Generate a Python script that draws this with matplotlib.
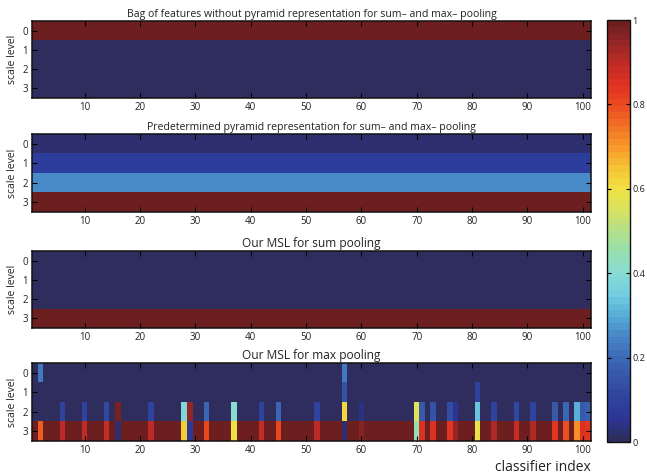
import numpy as np
import matplotlib
matplotlib.use("Agg")
import matplotlib.pyplot as plt
from matplotlib.colors import LinearSegmentedColormap

plt.rcParams['font.family'] = ['Open Sans', 'DejaVu Sans']

# ---------------- data ----------------
n_classifiers = 101
levels = [0, 1, 2, 3]
x_ticks = [10, 20, 30, 40, 50, 60, 70, 80, 90, 100]
cbar_ticks = [0, 0.2, 0.4, 0.6, 0.8, 1.0]
cbar_labels = ["0", "0.2", "0.4", "0.6", "0.8", "1"]

titles = [
    "Bag of features without pyramid representation for sum\u2013 and max\u2013 pooling",
    "Predetermined pyramid representation for sum\u2013 and max\u2013 pooling",
    "Our MSL for sum pooling",
    "Our MSL for max pooling",
]

# per-level weights (constant across classifiers)
bof_levels = [1.0, 0.0, 0.0, 0.0]
pyramid_levels = [0.02, 0.09, 0.25, 1.0]
msl_sum_levels = [0.0, 0.0, 0.0, 1.0]

# MSL max pooling: default column and the classifiers that differ
msl_max_default = [0.0, 0.0, 0.0, 1.0]
msl_max_cols = [2, 6, 10, 14, 16, 22, 28, 29, 32, 37, 42, 45, 52, 57, 60,
                70, 71, 73, 76, 77, 81, 84, 88, 91, 95, 97, 99, 100, 101]
msl_max_vals = [
    [0.22, 0.0, 0.0, 0.78],   # 2
    [0.0, 0.0, 0.10, 0.90],   # 6
    [0.0, 0.0, 0.10, 0.90],   # 10
    [0.0, 0.0, 0.11, 0.89],   # 14
    [0.0, 0.0, 0.97, 0.03],   # 16
    [0.0, 0.0, 0.10, 0.90],   # 22
    [0.0, 0.0, 0.38, 0.64],   # 28
    [0.0, 0.0, 0.94, 0.07],   # 29
    [0.0, 0.0, 0.20, 0.80],   # 32
    [0.0, 0.0, 0.40, 0.60],   # 37
    [0.0, 0.0, 0.10, 0.89],   # 42
    [0.0, 0.0, 0.20, 0.80],   # 45
    [0.0, 0.0, 0.10, 0.90],   # 52
    [0.22, 0.15, 0.62, 0.02], # 57
    [0.0, 0.0, 0.04, 0.96],   # 60
    [0.0, 0.0, 0.57, 0.44],   # 70
    [0.0, 0.0, 0.16, 0.85],   # 71
    [0.0, 0.0, 0.15, 0.85],   # 73
    [0.0, 0.0, 0.14, 0.84],   # 76
    [0.0, 0.0, 0.05, 0.95],   # 77
    [0.0, 0.10, 0.33, 0.59],  # 81
    [0.0, 0.0, 0.10, 0.91],   # 84
    [0.0, 0.0, 0.11, 0.89],   # 88
    [0.0, 0.0, 0.10, 0.91],   # 91
    [0.0, 0.0, 0.17, 0.84],   # 95
    [0.0, 0.0, 0.20, 0.79],   # 97
    [0.0, 0.0, 0.30, 0.71],   # 99
    [0.0, 0.0, 0.17, 0.85],   # 100
    [0.0, 0.0, 0.18, 0.83],   # 101
]

# ---------------- colormap (muted jet, 64 steps) ----------------
cmap_pts = [
    (0.00, "#2e2d5e"), (0.05, "#2c3596"), (0.10, "#2f449f"), (0.15, "#3656a8"),
    (0.20, "#3c6cb8"), (0.25, "#4888c8"), (0.30, "#58b0d8"), (0.35, "#74cee2"),
    (0.40, "#88dcd2"), (0.45, "#96e0b0"), (0.50, "#b4e08a"), (0.55, "#d8e260"),
    (0.60, "#f0e244"), (0.65, "#f6c434"), (0.70, "#f89a2a"), (0.75, "#f27424"),
    (0.80, "#ea4c20"), (0.85, "#e03222"), (0.90, "#c22c26"), (0.95, "#962626"),
    (1.00, "#6d1f20"),
]
cmap = LinearSegmentedColormap.from_list("mutedjet", cmap_pts, N=64)

# ---------------- build matrices ----------------
def const_matrix(level_vals):
    return np.tile(np.array(level_vals)[:, None], (1, n_classifiers))

m_max = const_matrix(msl_max_default)
for c, v in zip(msl_max_cols, msl_max_vals):
    m_max[:, c - 1] = v

mats = [const_matrix(bof_levels), const_matrix(pyramid_levels),
        const_matrix(msl_sum_levels), m_max]

# ---------------- layout ----------------
W, H = 647, 476
fig = plt.figure(figsize=(W / 100, H / 100), dpi=100)

def px_axes(l, t, r, b):
    return fig.add_axes([l / W, 1 - b / H, (r - l) / W, (b - t) / H])

panels = [(21, 98), (134, 212), (251, 328), (363, 441)]
title_sizes = [7.6, 7.6, 8.6, 8.6]
text_col = "#222222"

im = None
for i, ((t, b), mat) in enumerate(zip(panels, mats)):
    ax = px_axes(32, t, 591, b)
    im = ax.imshow(mat, cmap=cmap, vmin=0, vmax=1, aspect='auto',
                   interpolation='nearest',
                   extent=[0.5, n_classifiers + 0.5, 3.5, -0.5])
    ax.set_xticks(x_ticks)
    ax.set_yticks(levels)
    ax.tick_params(direction='in', top=True, right=True, length=3.5,
                   width=0.8, labelsize=7, colors="#000000",
                   labelcolor=text_col, pad=3)
    for s in ax.spines.values():
        s.set_linewidth(1.1)
        s.set_color("#111111")
    ax.set_ylabel("scale level", fontsize=7.5, color=text_col, labelpad=3)
    ax.set_title(titles[i], fontsize=title_sizes[i], color=text_col, pad=3)
    if i == 3:
        ax.set_xlabel("classifier index", fontsize=10, color=text_col,
                      loc='right', labelpad=3)

cax = px_axes(607, 20, 630, 442)
cb = fig.colorbar(im, cax=cax, ticks=cbar_ticks)
cb.ax.set_yticklabels(cbar_labels)
cb.ax.tick_params(direction='in', length=3, width=0.8, labelsize=6.6,
                  colors="#000000", labelcolor=text_col, left=True,
                  right=True, pad=1.5)
cb.outline.set_linewidth(1.0)
cb.outline.set_edgecolor("#111111")

fig.savefig("out.png", dpi=100)
